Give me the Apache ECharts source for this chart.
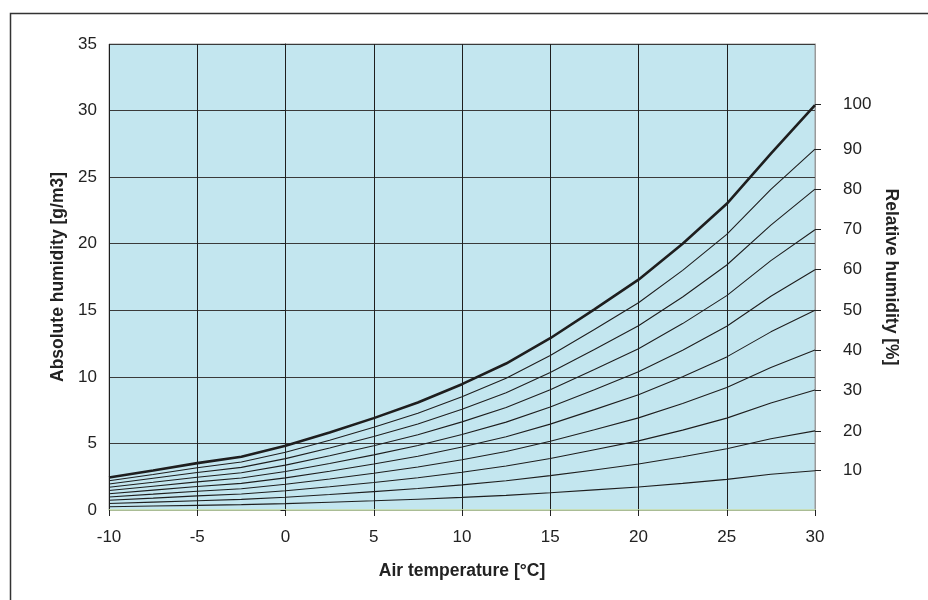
<!DOCTYPE html>
<html>
<head>
<meta charset="utf-8">
<script src="https://cdn.jsdelivr.net/npm/echarts@6/dist/echarts.min.js"></script>
<style>
  html, body { margin: 0; padding: 0; background: #fff; }
  #chart { width: 928px; height: 600px; }
</style>
</head>
<body>
<div id="chart"></div>
<script>
// air temperature [°C]
var temps = [-10, -7.5, -5, -2.5, 0, 2.5, 5, 7.5, 10, 12.5, 15, 17.5, 20, 22.5, 25, 27.5, 30];

// absolute humidity [g/m3] per relative humidity curve
var rh100 = [2.44, 2.97, 3.52, 4.0, 4.82, 5.82, 6.9, 8.07, 9.45, 11.0, 12.9, 15.07, 17.3, 20.0, 23.0, 26.76, 30.4];
var rh90 = [2.2, 2.67, 3.17, 3.6, 4.34, 5.24, 6.21, 7.26, 8.5, 9.9, 11.6, 13.56, 15.57, 18.0, 20.7, 24.08, 27.1];
var rh80 = [1.95, 2.38, 2.82, 3.2, 3.86, 4.66, 5.52, 6.46, 7.56, 8.8, 10.32, 12.06, 13.84, 16.0, 18.4, 21.4, 24.1];
var rh70 = [1.71, 2.08, 2.46, 2.8, 3.37, 4.07, 4.83, 5.65, 6.62, 7.7, 9.03, 10.55, 12.11, 14.0, 16.1, 18.73, 21.05];
var rh60 = [1.46, 1.78, 2.11, 2.4, 2.89, 3.49, 4.14, 4.84, 5.67, 6.6, 7.74, 9.04, 10.38, 12.0, 13.8, 16.06, 18.05];
var rh50 = [1.22, 1.49, 1.76, 2.0, 2.41, 2.91, 3.45, 4.04, 4.73, 5.5, 6.45, 7.54, 8.65, 10.0, 11.5, 13.38, 15.0];
var rh40 = [0.98, 1.19, 1.41, 1.6, 1.93, 2.33, 2.76, 3.23, 3.78, 4.4, 5.16, 6.03, 6.92, 8.0, 9.2, 10.7, 12.02];
var rh30 = [0.73, 0.89, 1.06, 1.2, 1.45, 1.75, 2.07, 2.42, 2.84, 3.3, 3.87, 4.52, 5.19, 6.0, 6.9, 8.03, 9.02];
var rh20 = [0.49, 0.59, 0.7, 0.8, 0.96, 1.16, 1.38, 1.61, 1.89, 2.2, 2.58, 3.01, 3.46, 4.0, 4.6, 5.35, 5.94];
var rh10 = [0.24, 0.3, 0.35, 0.4, 0.48, 0.58, 0.69, 0.81, 0.95, 1.1, 1.29, 1.51, 1.73, 2.0, 2.3, 2.68, 2.95];

// right axis: relative humidity labels, placed where each curve ends at 30 °C
var rhLabels = ['10', '20', '30', '40', '50', '60', '70', '80', '90', '100'];
var rhLabelPos = [2.95, 5.94, 9.02, 12.02, 15.0, 18.05, 21.05, 24.07, 27.1, 30.46];

var curves = [rh100, rh90, rh80, rh70, rh60, rh50, rh40, rh30, rh20, rh10];

var font = "'Liberation Sans', Arial, sans-serif";
var chart = echarts.init(document.getElementById('chart'));

function pairs(vals) {
    return temps.map(function (t, i) { return [t, vals[i]]; });
}

var series = curves.map(function (c, i) {
    return {
        type: 'line', data: pairs(c), symbol: 'none', silent: true,
        lineStyle: {color: '#1e1e1e', width: i === 0 ? 2.6 : 1.1},
        z: i === 0 ? 5 : 4
    };
});

var nameStyle = {fontFamily: font, fontSize: 17.5, fontWeight: 'bold', color: '#222'};

var option = {
    animation: false,
    backgroundColor: '#fff',
    graphic: [{
        type: 'rect', left: 8, top: 11, silent: true,
        shape: {x: 0, y: 0, width: 1000, height: 1000},
        style: {fill: 'none', stroke: '#333', lineWidth: 1.5}
    }],
    grid: {
        left: 109, top: 44, width: 706, height: 466,
        show: true, backgroundColor: '#c3e6ef', borderColor: '#9a9a9a', borderWidth: 1
    },
    xAxis: {
        type: 'value', min: -10, max: 30, interval: 5,
        name: 'Air temperature [°C]', nameLocation: 'middle', nameGap: 52,
        nameTextStyle: nameStyle,
        axisLine: {lineStyle: {color: '#cfe8b4', width: 1.5}},
        axisTick: {show: true, length: 6, lineStyle: {color: '#222'}},
        axisLabel: {fontFamily: font, fontSize: 17, color: '#222', margin: 19},
        splitLine: {show: true, lineStyle: {color: '#1e1e1e', width: 1}}
    },
    yAxis: [{
        type: 'value', min: 0, max: 35, interval: 5,
        name: 'Absolute humidity [g/m3]', nameLocation: 'middle', nameGap: 38,
        nameTextStyle: nameStyle,
        axisLine: {show: true, lineStyle: {color: '#1e1e1e', width: 1}},
        axisTick: {show: true, length: 5, lineStyle: {color: '#222'}},
        axisLabel: {fontFamily: font, fontSize: 17, color: '#222', margin: 12},
        splitLine: {show: true, lineStyle: {color: '#3a3a3a', width: 1.2}}
    }, {
        type: 'value', min: 0, max: 35, position: 'right',
        name: 'Relative humidity [%]', nameLocation: 'middle', nameGap: 63, nameRotate: -90,
        nameTextStyle: nameStyle,
        axisLine: {show: true, lineStyle: {color: '#9a9a9a', width: 1}},
        axisTick: {show: true, length: 6, customValues: rhLabelPos, lineStyle: {color: '#222'}},
        axisLabel: {
            fontFamily: font, fontSize: 17, color: '#222', margin: 28,
            customValues: rhLabelPos,
            formatter: function (v) {
                var i = rhLabelPos.indexOf(v);
                return i >= 0 ? rhLabels[i] : '';
            }
        },
        splitLine: {show: false}
    }],
    series: series
};

chart.setOption(option);
</script>
</body>
</html>
